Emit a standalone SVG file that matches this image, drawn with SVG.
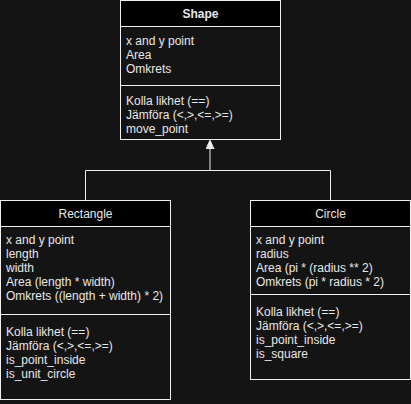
<svg xmlns="http://www.w3.org/2000/svg" width="411" height="404" viewBox="0 0 411 404">
  <defs>
    <style>
      .bg { fill: #141414; }
      .box { fill: #141414; stroke: #f0f0f0; stroke-width: 1; }
      .head { fill: #000000; stroke: #f0f0f0; stroke-width: 1; }
      .sep { stroke: #f0f0f0; stroke-width: 1; }
      .t { font-family: "Liberation Sans", Arial, sans-serif; font-size: 12px; fill: #e8e8e8; }
      .title { text-anchor: middle; }
      .bold { font-weight: bold; }
      .edge { fill: none; stroke: #f0f0f0; stroke-width: 1; }
    </style>
    <marker id="inherit" viewBox="0 0 10 10" refX="9" refY="5" markerWidth="9" markerHeight="9" markerUnits="userSpaceOnUse" orient="auto">
      <path d="M0,0.5 L10,5 L0,9.5 Z" fill="#f0f0f0" stroke="#f0f0f0"/>
    </marker>
  </defs>

  <rect class="bg" x="0" y="0" width="411" height="404"/>

  <!-- inheritance connectors -->
  <g id="connectors">
    <path class="edge" d="M85.5,200 V170.5 H330.5 V200"/>
    <path class="edge" d="M210,170.5 V141" marker-end="url(#inherit)"/>
  </g>

  <!-- Shape class -->
  <g id="shape">
    <rect class="box" x="120.5" y="0.5" width="160" height="139"/>
    <rect class="head" x="120.5" y="0.5" width="160" height="26"/>
    <line class="sep" x1="120.5" y1="85.5" x2="280.5" y2="85.5"/>
    <text class="t title bold" x="200.5" y="18">Shape</text>
    <text class="t" x="126" y="45">x and y point</text>
    <text class="t" x="126" y="59">Area</text>
    <text class="t" x="126" y="73">Omkrets</text>
    <text class="t" x="126" y="105">Kolla likhet (==)</text>
    <text class="t" x="126" y="119">Jämföra (&lt;,&gt;,&lt;=,&gt;=)</text>
    <text class="t" x="126" y="133">move_point</text>
  </g>

  <!-- Rectangle class -->
  <g id="rectangle">
    <rect class="box" x="0.5" y="200.5" width="170" height="199"/>
    <rect class="head" x="0.5" y="200.5" width="170" height="26"/>
    <line class="sep" x1="0.5" y1="314.5" x2="170.5" y2="314.5"/>
    <text class="t title" x="85.5" y="218">Rectangle</text>
    <text class="t" x="6" y="244">x and y point</text>
    <text class="t" x="6" y="258">length</text>
    <text class="t" x="6" y="272">width</text>
    <text class="t" x="6" y="286">Area (length * width)</text>
    <text class="t" x="6" y="300">Omkrets ((length + width) * 2)</text>
    <text class="t" x="6" y="336">Kolla likhet (==)</text>
    <text class="t" x="6" y="350">Jämföra (&lt;,&gt;,&lt;=,&gt;=)</text>
    <text class="t" x="6" y="364">is_point_inside</text>
    <text class="t" x="6" y="378">is_unit_circle</text>
  </g>

  <!-- Circle class -->
  <g id="circle">
    <rect class="box" x="250.5" y="200.5" width="160" height="179"/>
    <rect class="head" x="250.5" y="200.5" width="160" height="26"/>
    <line class="sep" x1="250.5" y1="294.5" x2="410.5" y2="294.5"/>
    <text class="t title" x="330.5" y="218">Circle</text>
    <text class="t" x="256" y="244">x and y point</text>
    <text class="t" x="256" y="258">radius</text>
    <text class="t" x="256" y="272">Area (pi * (radius ** 2)</text>
    <text class="t" x="256" y="286">Omkrets (pi * radius * 2)</text>
    <text class="t" x="256" y="316">Kolla likhet (==)</text>
    <text class="t" x="256" y="330">Jämföra (&lt;,&gt;,&lt;=,&gt;=)</text>
    <text class="t" x="256" y="344">is_point_inside</text>
    <text class="t" x="256" y="358">is_square</text>
  </g>
</svg>
